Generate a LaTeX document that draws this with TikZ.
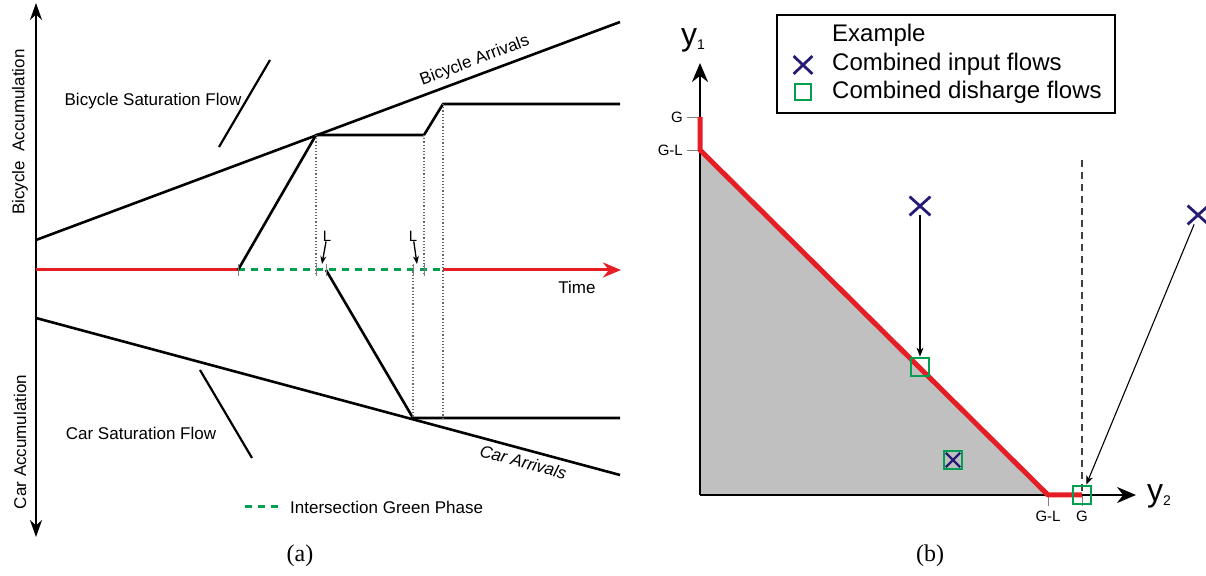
\documentclass[tikz,border=0pt]{standalone}
\usepackage{fontspec}
\setmainfont{Liberation Sans}
\newfontfamily\capfont{Liberation Serif}
\usetikzlibrary{arrows.meta, shapes.misc, positioning}

\definecolor{phasered}{RGB}{228,30,36}
\definecolor{phasegreen}{RGB}{0,160,80}
\definecolor{flowblue}{RGB}{38,28,118}
\definecolor{regiongray}{RGB}{192,192,192}

\begin{document}
\begin{tikzpicture}[x=1pt, y=1pt,
    curve/.style={line width=2.6pt, line join=round},
    guide/.style={dotted, line width=1.2pt, black!60},
    tickmark/.style={line width=0.9pt, black!50},
    greenphase/.style={phasegreen, line width=3pt, dash pattern=on 7pt off 6pt},
    txt/.style={font=\fontsize{17}{19}\selectfont, inner sep=1pt},
    smalltxt/.style={font=\fontsize{15}{17}\selectfont, inner sep=0pt},
    legtxt/.style={font=\fontsize{24}{26}\selectfont, inner sep=0pt, anchor=west},
    inflow/.style={cross out, draw=flowblue, line width=2.8pt, minimum width=18pt, minimum height=16pt, inner sep=0pt},
    outflow/.style={rectangle, draw=phasegreen, line width=2.8pt, minimum size=18pt, inner sep=0pt},
    captxt/.style={font=\capfont\fontsize{24}{26}\selectfont}]

    \useasboundingbox (0,0) rectangle (1206,575);

    % =================================================================
    % 1. (a) CAC TRUC
    % =================================================================
    \coordinate (aTop) at (36,572);
    \coordinate (aBot) at (36,38);
    \coordinate (tO) at (36,305);
    \coordinate (gStart) at (238,305);
    \coordinate (gEnd) at (443,305);
    \coordinate (tEnd) at (621,305);

    \draw[curve, {Stealth[length=17pt,width=12pt]}-{Stealth[length=17pt,width=12pt]}] (aBot) -- (aTop);
    \draw[phasered, line width=3pt] (tO) -- (gStart);
    \draw[greenphase] (gStart) -- (gEnd);
    \draw[phasered, line width=3pt, -{Stealth[length=18pt,width=15pt]}] (gEnd) -- (tEnd);

    \node[txt, rotate=90] (bicacc) at (20,443) {Bicycle\hspace{0.55em}Accumulation};
    \node[txt, rotate=90] (caracc) at (20,133) {Car Accumulation};
    \node[txt] (time) at (577,288) {Time};

    % =================================================================
    % 2. (a) DUONG DEN VA HANG CHO
    % =================================================================
    \draw[curve] (36,335) -- node[txt, sloped, above=4pt, pos=0.76] (bicarr) {Bicycle Arrivals} (620,553);
    \draw[curve] (36,257) -- node[txt, sloped, below=4pt, pos=0.84, font=\fontsize{17}{19}\selectfont\itshape] (cararr) {Car Arrivals} (620,100);

    % hang cho xe dap
    \coordinate (bq1) at (316,440);
    \coordinate (bq2) at (424,440);
    \coordinate (bq3) at (443,471);
    \coordinate (bq4) at (620,471);
    \draw[curve] (gStart) -- (bq1) -- (bq2) -- (bq3) -- (bq4);

    % hang cho o to
    \coordinate (cq0) at (326,305);
    \coordinate (cq1) at (413,157);
    \coordinate (cq2) at (620,157);
    \draw[curve] (cq0) -- (cq1) -- (cq2);

    % do doc luu luong bao hoa
    \draw[line width=2.2pt] (270,515) -- (219,428);
    \draw[line width=2.2pt] (200,205) -- (252,117);
    \node[txt] (bicsat) at (153,474) {Bicycle Saturation Flow};
    \node[txt] (carsat) at (141,142) {Car Saturation Flow};

    % duong giong cham
    \draw[guide] (bq1) -- (316,300);
    \draw[guide] (bq2) -- (424,300);
    \draw[guide] (413,310) -- (cq1);
    \draw[guide] (bq3) -- (443,157);
    \foreach \x in {238,316,326,413,424}
        \draw[tickmark] (\x,299) -- (\x,311);

    % khoang L
    \node[smalltxt] (L1) at (327,339) {L};
    \node[smalltxt] (L2) at (413,339) {L};
    \coordinate (L1tip) at (322,311);
    \coordinate (L2tip) at (417,311);
    \draw[line width=1.3pt, -{Stealth[length=8pt,width=6pt]}] (L1) -- (L1tip);
    \draw[line width=1.3pt, -{Stealth[length=8pt,width=6pt]}] (L2) -- (L2tip);

    % chu thich pha xanh
    \draw[greenphase] (245,68) -- (281,68);
    \node[txt, anchor=west] (phaseleg) at (289,68) {Intersection Green Phase};

    \node[captxt] (capa) at (300,19) {(a)};

    % =================================================================
    % 3. (b) MIEN KHA THI
    % =================================================================
    \coordinate (O) at (700,80);
    \coordinate (y1Tip) at (700,512);
    \coordinate (y2Tip) at (1136,80);
    \coordinate (Gy) at (700,458);
    \coordinate (GLy) at (700,425);
    \coordinate (GLx) at (1048,80);
    \coordinate (Gx) at (1082,80);

    \fill[regiongray] (O) -- (GLy) -- (GLx) -- cycle;
    \draw[tickmark] (Gy) -- ++(-13,0) coordinate (GyT);
    \draw[tickmark] (GLy) -- ++(-13,0) coordinate (GLyT);
    \draw[tickmark] (GLx) -- ++(0,-11) coordinate (GLxT);
    \draw[tickmark] (Gx) -- ++(0,-11) coordinate (GxT);
    \draw[dash pattern=on 7pt off 5pt, line width=1.1pt, black!75] (1082,415) -- (Gx);

    \draw[line width=2.4pt, -{Stealth[length=19pt,width=16pt]}] (O) -- (y1Tip);
    \draw[line width=2.4pt, -{Stealth[length=19pt,width=16pt]}] (O) -- (y2Tip);
    \draw[phasered, line width=5pt, line join=round] (Gy) -- (GLy) -- (GLx) -- (Gx);

    \node[smalltxt, left=4pt of GyT] (GyLab) {G};
    \node[smalltxt, left=4pt of GLyT] (GLyLab) {G-L};
    \node[smalltxt, below=5pt of GLxT] (GLxLab) {G-L};
    \node[smalltxt, below=5pt of GxT] (GxLab) {G};

    \node[font=\fontsize{32}{34}\selectfont, inner sep=0pt, anchor=base west] (y1Lab) at (681,529) {y\raisebox{-4pt}{\fontsize{14}{14}\selectfont 1}};
    \node[font=\fontsize{32}{34}\selectfont, inner sep=0pt, anchor=base west] (y2Lab) at (1147,73) {y\raisebox{-4pt}{\fontsize{14}{14}\selectfont 2}};

    % =================================================================
    % 4. (b) CAC DIEM VI DU
    % =================================================================
    \node[inflow] (in1) at (920,369) {};
    \node[inflow] (in2) at (1198,360) {};
    \node[outflow] (out1) at (920,208) {};
    \node[outflow] (out2) at (953,115) {};
    \node[inflow, minimum width=12pt, minimum height=12pt, line width=2.4pt] (in3) at (953,115) {};
    \node[outflow] (out3) at (Gx) {};
    \draw[line width=1.1pt, -{Stealth[length=9pt,width=7pt]}] (in1) -- (out1);
    \draw[line width=1.1pt, -{Stealth[length=9pt,width=7pt]}] (in2) -- (out3);

    % chu giai
    \draw[line width=2.5pt] (777,560) rectangle (1115,462);
    \node[legtxt] (legtitle) at (832,540) {Example};
    \node[legtxt] (leginput) at (832,511) {Combined input flows};
    \node[legtxt] (legoutput) at (832,483) {Combined disharge flows};
    \node[inflow, minimum width=16pt, minimum height=15pt] (legcross) at (803,510) {};
    \node[outflow, minimum size=16pt] (legsquare) at (803,483) {};

    \node[captxt] (capb) at (930,19) {(b)};

\end{tikzpicture}
\end{document}
